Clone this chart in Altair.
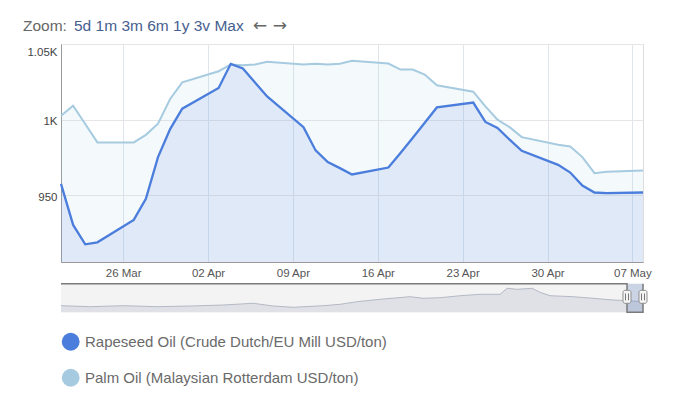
import altair as alt
import pandas as pd

# ---------------- data ----------------
series_names = ["Rapeseed Oil (Crude Dutch/EU Mill USD/ton)",
                "Palm Oil (Malaysian Rotterdam USD/ton)"]
series_colors = ["#4a7ddc", "#a6cbe0"]

dates = ["2018-03-21", "2018-03-22", "2018-03-23", "2018-03-24",
         "2018-03-27", "2018-03-28", "2018-03-29", "2018-03-30", "2018-03-31",
         "2018-04-03", "2018-04-04", "2018-04-05", "2018-04-06", "2018-04-07",
         "2018-04-10", "2018-04-11", "2018-04-12", "2018-04-13", "2018-04-14",
         "2018-04-17", "2018-04-18", "2018-04-19", "2018-04-20", "2018-04-21",
         "2018-04-24", "2018-04-25", "2018-04-26", "2018-04-27", "2018-04-28",
         "2018-05-01", "2018-05-02", "2018-05-03", "2018-05-04", "2018-05-05",
         "2018-05-08"]
rapeseed = [957.6, 930.5, 917.7, 919.0,
            933.8, 947.7, 975.3, 993.8, 1007.3,
            1021.0, 1036.9, 1033.8, 1024.6, 1015.4,
            995.1, 979.7, 972.0, 968.0, 963.8,
            968.4, 978.0, 987.9, 998.0, 1008.1,
            1011.3, 998.5, 994.5, 986.8, 979.5,
            970.2, 965.1, 956.5, 951.9, 951.5,
            951.9]
palm = [1002.6, 1009.3, 997.2, 985.0,
        985.0, 990.0, 997.4, 1013.7, 1024.7,
        1032.0, 1036.4, 1036.0, 1036.4, 1038.2,
        1036.4, 1037.0, 1036.5, 1036.9, 1038.9,
        1037.1, 1033.1, 1033.1, 1029.8, 1022.7,
        1018.5, 1008.8, 1000.0, 995.1, 988.5,
        983.4, 982.3, 975.3, 964.7, 965.6,
        966.4]

x_ticks = ["2018-03-26", "2018-04-02", "2018-04-09", "2018-04-16",
           "2018-04-23", "2018-04-30", "2018-05-07"]
y_ticks = [950, 1000, 1050]
y_domain = [906, 1050]

# navigator (long history overview, relative level 0-100)
nav_dates = ["2013-07-26", "2013-10-22", "2014-01-29", "2014-05-11", "2014-08-18",
             "2014-11-25", "2015-02-23", "2015-04-24", "2015-06-23", "2015-09-21",
             "2015-11-11", "2016-01-01", "2016-03-10", "2016-06-08", "2016-07-17",
             "2016-09-06", "2016-11-05", "2017-01-04", "2017-03-05", "2017-03-26",
             "2017-04-25", "2017-06-09", "2017-07-03", "2017-08-02", "2017-10-10",
             "2017-12-09", "2018-02-07", "2018-03-21", "2018-05-08"]
nav_values = [23.1, 19.6, 23.1, 19.6, 22.0,
              25.5, 31.5, 22.0, 17.5, 23.1,
              28.0, 37.1, 45.5, 54.5, 49.0,
              51.0, 58.0, 62.9, 62.9, 83.9,
              80.4, 83.9, 69.9, 58.0, 54.5,
              49.0, 43.0, 40.6, 37.1]
window_start = "2018-03-21"
window_end = "2018-05-08"

zoom_label = "Zoom:"
zoom_options = "5d 1m 3m 6m 1y 3v Max"
zoom_arrows = "\u2190  \u2192"

FONT = "Liberation Sans"


def utc_str(d, shift_h=0):
    return (pd.Timestamp(d) - pd.Timedelta(hours=shift_h)).strftime("%Y-%m-%dT%H:%M:%SZ")


main_df = pd.DataFrame({
    "date": [utc_str(d, 3) for d in dates] * 2,
    "series": [series_names[0]] * len(dates) + [series_names[1]] * len(dates),
    "value": rapeseed + palm,
})

color = alt.Color("series:N", scale=alt.Scale(domain=series_names, range=series_colors),
                  legend=None)

x_axis = alt.Axis(
    values=[alt.DateTime(year=int(t[:4]), month=int(t[5:7]), date=int(t[8:]), utc=True)
            for t in x_ticks],
    format="%d %b", title=None, grid=True, gridColor="#e0e5ec", ticks=False,
    domainColor="#999999", labelPadding=5, labelFontSize=11.5, labelColor="#555555",
    labelFont=FONT, labelFlush=False, labelOverlap=False)
y_axis = alt.Axis(
    values=y_ticks, title=None, grid=True, gridColor="#e6e6e6", ticks=False,
    domainColor="#999999", labelPadding=4, labelFontSize=11.5, labelColor="#444444",
    labelFont=FONT, labelFlush=True, labelOffset=2,
    labelExpr="datum.value >= 1000 ? format(datum.value/1000, '~g') + 'K' : format(datum.value, 'd')")

base = alt.Chart(main_df).encode(
    x=alt.X("date:T", scale=alt.Scale(type="utc"), axis=x_axis),
    y=alt.Y("value:Q", scale=alt.Scale(domain=y_domain, zero=False, nice=False), axis=y_axis),
    color=color,
)

palm_area = base.transform_filter(alt.datum.series == series_names[1]).mark_area(opacity=0.12, clip=True)
rape_area = base.transform_filter(alt.datum.series == series_names[0]).mark_area(opacity=0.12, clip=True)
palm_line = base.transform_filter(alt.datum.series == series_names[1]).mark_line(strokeWidth=2)
rape_line = base.transform_filter(alt.datum.series == series_names[0]).mark_line(strokeWidth=2.3)

main = alt.layer(palm_area, rape_area, palm_line, rape_line)

# ---------------- navigator ----------------
nav_x = alt.X("nav_date:T", scale=alt.Scale(type="utc"), axis=None)
nav_yscale = alt.Scale(domain=[0, 100], range=[268.3, 239.7])
nav_y = alt.Y("nav_y:Q", scale=nav_yscale, axis=None)

nav_df = pd.DataFrame({"nav_date": nav_dates, "nav_y": nav_values})
bg_df = pd.DataFrame({"nav_date": [nav_dates[0]], "nav_end": [nav_dates[-1]],
                      "nav_y": [100], "nav_y2": [0]})
mask_df = pd.DataFrame({"nav_date": [window_start], "nav_end": [window_end],
                        "nav_y": [100], "nav_y2": [0]})
outline_df = pd.DataFrame({
    "nav_date": [nav_dates[0], window_start, window_start, window_end, window_end],
    "nav_y": [100, 100, 0, 0, 100],
    "ord": [0, 1, 2, 3, 4]})
handle_df = pd.DataFrame({"nav_date": [window_start, window_end]})

nav_bg = alt.Chart(bg_df).mark_rect(color="#f3f3f3").encode(
    x=nav_x, x2="nav_end:T", y=nav_y, y2="nav_y2:Q")
nav_area = alt.Chart(nav_df).mark_area(
    color="#d6d9e1", line={"color": "#b4b9c5", "strokeWidth": 1}).encode(x=nav_x, y=nav_y)
nav_mask = alt.Chart(mask_df).mark_rect(color="#6685c2", opacity=0.28).encode(
    x=nav_x, x2="nav_end:T", y=nav_y, y2="nav_y2:Q")
nav_outline = alt.Chart(outline_df).mark_line(color="#7a7a7a", strokeWidth=1.5).encode(
    x=nav_x, y=nav_y, order="ord:Q")
nav_handles = alt.Chart(handle_df).mark_rect(
    xOffset=-4, x2Offset=4, fill="#f4f4f4", stroke="#8f8f8f", strokeWidth=1,
    cornerRadius=2).encode(x=nav_x, x2="nav_date:T", y=alt.value(246.3), y2=alt.value(259.3))
nav_grip1 = alt.Chart(handle_df).mark_rule(xOffset=-1.5, color="#777777", strokeWidth=1).encode(
    x=nav_x, y=alt.value(249.5), y2=alt.value(256.3))
nav_grip2 = alt.Chart(handle_df).mark_rule(xOffset=1.5, color="#777777", strokeWidth=1).encode(
    x=nav_x, y=alt.value(249.5), y2=alt.value(256.3))

navigator = alt.layer(nav_bg, nav_area, nav_mask, nav_outline, nav_handles, nav_grip1, nav_grip2)

# ---------------- legend ----------------
legend_df = pd.DataFrame({"series": series_names})
leg_y = alt.Y("series:N", scale=alt.Scale(type="point", domain=series_names,
                                          range=[297.7, 333.7], padding=0), axis=None)
leg_dots = alt.Chart(legend_df).mark_circle(size=320, opacity=1).encode(
    x=alt.value(9.7), y=leg_y, color=color)
leg_text = alt.Chart(legend_df).mark_text(
    align="left", baseline="middle", fontSize=15, font=FONT, color="#6a6a6a").encode(
    x=alt.value(24), y=leg_y, text="series:N")
legend = alt.layer(leg_dots, leg_text)

# ---------------- zoom toolbar text ----------------
one = pd.DataFrame({"a": [0]})
t_zoom = alt.Chart(one).mark_text(align="left", baseline="alphabetic", fontSize=15.5,
                                  font=FONT, color="#666666", text=zoom_label).encode(
    x=alt.value(-38), y=alt.value(-13.3))
t_opts = alt.Chart(one).mark_text(align="left", baseline="alphabetic", fontSize=15.5,
                                  font=FONT, color="#45608f", text=zoom_options).encode(
    x=alt.value(13), y=alt.value(-13.3))
t_arrows = alt.Chart(one).mark_text(align="left", baseline="alphabetic", fontSize=17,
                                    font="DejaVu Sans", color="#666666", text=zoom_arrows).encode(
    x=alt.value(192), y=alt.value(-13.3))
toolbar = alt.layer(t_zoom, t_opts, t_arrows)

chart = alt.layer(main, navigator, legend, toolbar).resolve_scale(
    x="independent", y="independent"
).properties(
    width=582, height=218,
    autosize=alt.AutoSizeParams(type="none"),
    padding={"left": 53, "top": 36, "right": 20, "bottom": 126},
).configure_view(stroke=None).configure(background="white")

chart.save("out.html", embed_options={"renderer": "svg", "actions": False})
